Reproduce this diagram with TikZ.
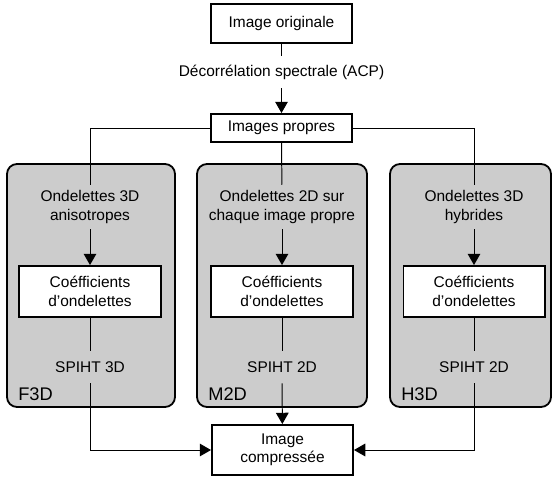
\documentclass[tikz,border=0pt]{standalone}
\usepackage{fontspec}
\setmainfont{Liberation Sans}
\usepackage{tikz}
\usetikzlibrary{positioning, arrows.meta}
\definecolor{panelGray}{HTML}{CCCCCC}

\begin{document}
\begin{tikzpicture}[x=0.025cm, y=-0.025cm,
  box/.style={draw, line width=1.4pt, fill=white, minimum width=3.525cm, align=center, font=\fontsize{11}{13}\selectfont},
  lbl/.style={align=center, inner sep=4pt, minimum height=0.8cm, font=\fontsize{11}{13}\selectfont},
  panel/.style={draw, line width=1.3pt, fill=panelGray, rounded corners=0.25cm},
  tag/.style={anchor=base west, inner sep=0pt, font=\fontsize{13}{15}\selectfont},
  link/.style={line width=0.7pt},
  flow/.style={link, -{Triangle[length=8pt, width=9pt]}}]
\useasboundingbox (0,0) rectangle (553,482);
% top part
\node[box, minimum height=0.975cm] (orig) at (281.5,23.5) {Image originale};
\node[lbl] (acp) at (281.5,72) {Décorrélation spectrale (ACP)};
\node[box, minimum height=0.7cm] (eig) at (281.5,128) {Images propres};
\draw[link] (orig) -- (acp);
\draw[flow] (acp) -- (eig);
% three coders
\foreach \i/\x/\l/\r/\algo/\sp/\name in {1/90/7/175/{Ondelettes 3D\\anisotropes}/3D/F3D,2/282/197/367/{Ondelettes 2D sur\\chaque image propre}/2D/M2D,3/474/390/551/{Ondelettes 3D\\hybrides}/2D/H3D}
{\draw[panel] (\l,164) rectangle (\r,407);
\node[lbl] (w\i) at (\x,207) {\algo};
\node[box, minimum height=1.275cm] (c\i) at (\x,291.5) {Coéfficients\\d'ondelettes};
\node[lbl] (s\i) at (\x,367) {SPIHT \sp};
\node[tag] (t\i) at (\l+11,400) {\name};
\draw[flow] (w\i) -- (c\i);
\draw[link] (c\i) -- (s\i);}
% output
\node[box, minimum height=1.25cm] (comp) at (282.5,450) {Image\\compressée};
\draw[link] (eig.west) -| (w1.north);
\draw[link] (eig.east) -| (w3.north);
\draw[link] (eig) -- (w2);
\draw[flow] (s1) |- (comp.west);
\draw[flow] (s2) -- (comp);
\draw[flow] (s3) |- (comp.east);
\end{tikzpicture}
\end{document}
